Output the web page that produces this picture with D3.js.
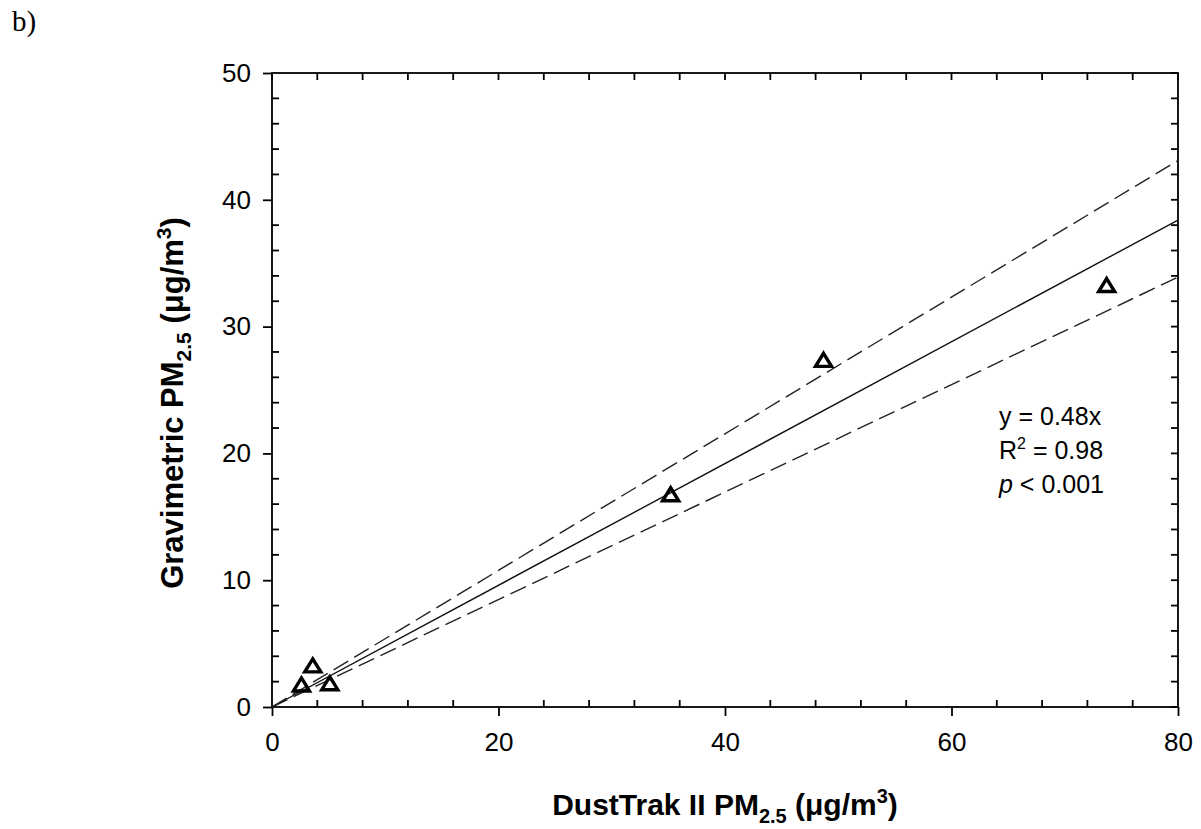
<!DOCTYPE html>
<html><head><meta charset="utf-8">
<script src="https://cdn.jsdelivr.net/npm/d3@7"></script>
<style>body{margin:0;background:#fff}svg{display:block}</style>
</head><body>
<script>
const pointsX = [2.6, 3.6, 5.1, 35.2, 48.7, 73.7];
const pointsY = [1.7, 3.2, 1.8, 16.7, 27.3, 33.2];
const fitLine = [[0, 0], [80, 38.4]];
const upperBand = [[0, 0], [80, 43.1]];
const lowerBand = [[0, 0], [80, 33.9]];
const xTicks = [0, 20, 40, 60, 80];
const yTicks = [0, 10, 20, 30, 40, 50];
const annot = ["y = 0.48x", "R2 = 0.98", "p < 0.001"];

const W = 1201, H = 829;
const svg = d3.select("body").append("svg").attr("width", W).attr("height", H);
const L = 272, R = 1178, T = 73, B = 707;
const x = d3.scaleLinear().domain([0, 80]).range([L, R]);
const y = d3.scaleLinear().domain([0, 50]).range([B, T]);
const font = "Liberation Sans, Arial, sans-serif";

svg.append("text").attr("x", 12).attr("y", 31).attr("font-family", "Liberation Serif, Times New Roman, serif")
  .attr("font-size", 29).text("b)");

// axes
const g = svg.append("g").attr("stroke", "#000").attr("stroke-width", 1.8);
g.append("rect").attr("x", L).attr("y", T).attr("width", R - L).attr("height", B - T).attr("fill", "none");
const xMinor = d3.range(0, 81, 4);
const yMinor = d3.range(0, 51, 2);
xMinor.forEach(v => {
  if (v % 20 === 0) return;
  g.append("line").attr("x1", x(v)).attr("x2", x(v)).attr("y1", B).attr("y2", B - 7);
  g.append("line").attr("x1", x(v)).attr("x2", x(v)).attr("y1", T).attr("y2", T + 7);
});
yMinor.forEach(v => {
  if (v % 10 === 0) return;
  g.append("line").attr("y1", y(v)).attr("y2", y(v)).attr("x1", L).attr("x2", L + 7);
  g.append("line").attr("y1", y(v)).attr("y2", y(v)).attr("x1", R).attr("x2", R - 7);
});
const xAxis = d3.axisBottom(x).tickValues(xTicks).tickSize(9).tickPadding(17);
const xa = svg.append("g").attr("transform", `translate(0,${B})`).call(xAxis);
xa.select(".domain").remove();
xa.selectAll("line").attr("stroke-width", 1.8);
xa.selectAll("text").attr("font-family", font).attr("font-size", 26).attr("fill", "#000");
const yAxis = d3.axisLeft(y).tickValues(yTicks).tickSize(9).tickPadding(12);
const ya = svg.append("g").attr("transform", `translate(${L},0)`).call(yAxis);
ya.select(".domain").remove();
ya.selectAll("line").attr("stroke-width", 1.8);
ya.selectAll("text").attr("font-family", font).attr("font-size", 26).attr("fill", "#000");
xTicks.forEach(v => g.append("line").attr("x1", x(v)).attr("x2", x(v)).attr("y1", T).attr("y2", T + 7));
yTicks.forEach(v => g.append("line").attr("y1", y(v)).attr("y2", y(v)).attr("x1", R).attr("x2", R - 7));

// lines
const line = d3.line().x(d => x(d[0])).y(d => y(d[1]));
const lg = svg.append("g");
lg.append("path").attr("d", line(fitLine)).attr("stroke", "#111").attr("stroke-width", 1.4).attr("fill", "none");
[upperBand, lowerBand].forEach(b => lg.append("path").attr("d", line(b)).attr("stroke", "#222")
  .attr("stroke-width", 1.4).attr("fill", "none").attr("stroke-dasharray", "17,7"));

// points
const triType = { draw(ctx, size) { const w = 8, h = 6.5; ctx.moveTo(0, -h - 1); ctx.lineTo(w, h - 1); ctx.lineTo(-w, h - 1); ctx.closePath(); } };
const tri = d3.symbol().type(triType);
svg.selectAll("path.pt").data(pointsX.map((v, i) => [v, pointsY[i]])).enter().append("path")
  .attr("class", "pt").attr("d", tri).attr("transform", d => `translate(${x(d[0])},${y(d[1])})`)
  .attr("fill", "none").attr("stroke", "#000").attr("stroke-width", 3.4).attr("stroke-linejoin", "miter");

// annotation
const ax = 999;
const at = svg.append("g").attr("font-family", font).attr("font-size", 25).attr("fill", "#000");
at.append("text").attr("x", ax).attr("y", 425).text(annot[0]);
const t2 = at.append("text").attr("x", ax).attr("y", 459);
t2.append("tspan").text("R");
t2.append("tspan").attr("font-size", 16).attr("dy", -10).text("2");
t2.append("tspan").attr("dy", 10).text(" = 0.98");
const t3 = at.append("text").attr("x", ax).attr("y", 493);
t3.append("tspan").attr("font-style", "italic").text("p");
t3.append("tspan").text(" < 0.001");

// axis titles
const xt = svg.append("text").attr("x", (L + R) / 2).attr("y", 815).attr("text-anchor", "middle")
  .attr("font-family", font).attr("font-size", 30).attr("font-weight", "bold");
xt.append("tspan").text("DustTrak II PM");
xt.append("tspan").attr("font-size", 20).attr("dy", 8).text("2.5");
xt.append("tspan").attr("dy", -8).text(" (\u03bcg/m");
xt.append("tspan").attr("font-size", 20).attr("dy", -12).text("3");
xt.append("tspan").attr("dy", 12).text(")");

const yt = svg.append("text").attr("transform", `translate(183,403) rotate(-90)`).attr("text-anchor", "middle")
  .attr("font-family", font).attr("font-size", 31).attr("font-weight", "bold");
yt.append("tspan").text("Gravimetric PM");
yt.append("tspan").attr("font-size", 21).attr("dy", 8).text("2.5");
yt.append("tspan").attr("dy", -8).text(" (\u03bcg/m");
yt.append("tspan").attr("font-size", 21).attr("dy", -12).text("3");
yt.append("tspan").attr("dy", 12).text(")");
</script>
</body></html>
